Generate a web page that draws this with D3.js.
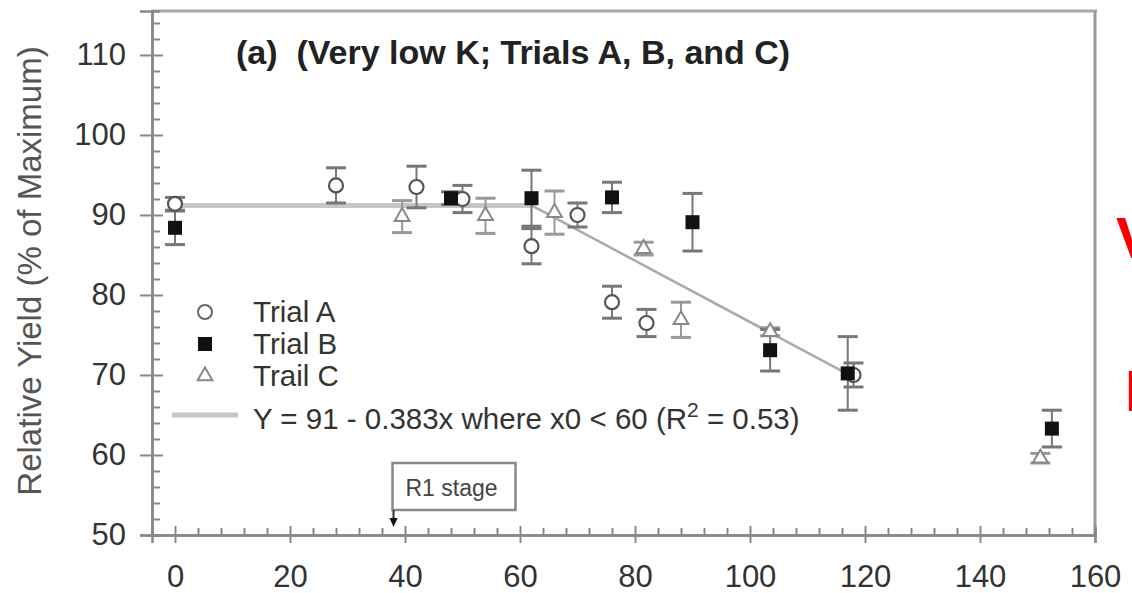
<!DOCTYPE html>
<html>
<head>
<meta charset="utf-8">
<script src="https://cdn.jsdelivr.net/npm/d3@7"></script>
<style>
  body { margin: 0; background: #fff; }
  svg { display: block; font-family: Arial, "Liberation Sans", sans-serif; }
</style>
</head>
<body>
<svg id="chart" width="1132" height="593"></svg>
<script>
// data
const trialA_x = [0, 28, 42, 50, 62, 70, 76, 82, 118];
const trialA_y = [91.4, 93.7, 93.5, 92.0, 86.1, 90.0, 79.1, 76.5, 70.0];
const trialA_err = [0.8, 2.2, 2.6, 1.7, 2.2, 1.5, 2.0, 1.7, 1.5];

const trialB_x = [0, 48, 62, 76, 90, 103.5, 117, 152.5];
const trialB_y = [88.4, 92.1, 92.1, 92.2, 89.1, 73.1, 70.2, 63.3];
const trialB_err = [2.1, 0.8, 3.5, 1.9, 3.6, 2.6, 4.6, 2.3];

const trialC_x = [39.5, 54, 66, 81.5, 88, 103.5, 150.5];
const trialC_y = [89.8, 89.9, 90.3, 85.8, 76.9, 75.4, 59.6];
const trialC_err = [2.0, 2.2, 2.7, 0.8, 2.2, 0.5, 0.6];

// fitted line: plateau then linear decline
const regX = [0, 62, 117];
const regY = [91.2, 91.2, 70.1];

const xTicks = [0, 20, 40, 60, 80, 100, 120, 140, 160];
const yTicks = [50, 60, 70, 80, 90, 100, 110];
const r1X = 38;

const legendLabels = ["Trial A", "Trial B", "Trail C"];
const titleText = "(a)  (Very low K; Trials A, B, and C)";
const yTitle = "Relative Yield (% of Maximum)";

const svg = d3.select('#chart');

const x = d3.scaleLinear().domain([-4, 160]).range([152, 1095]);
const y = d3.scaleLinear().domain([50, 115.5]).range([535, 11]);

const axisColor = '#888';

// frame (top + right)
svg.append('line').attr('x1', x(-4)).attr('x2', x(160) + 2).attr('y1', y(115.5)).attr('y2', y(115.5))
  .attr('stroke', '#aaa').attr('stroke-width', 3);
svg.append('line').attr('x1', x(160)).attr('x2', x(160)).attr('y1', y(115.5)).attr('y2', y(50))
  .attr('stroke', '#999').attr('stroke-width', 3);

// y axis
const yMinor = d3.range(50, 116, 2).filter(v => v % 10 !== 0);
const yMinorG = svg.append('g').attr('transform', `translate(${x(-4)},0)`)
  .call(d3.axisLeft(y).tickValues(yMinor).tickSize(-8).tickFormat(''));
const yAxisG = svg.append('g').attr('transform', `translate(${x(-4)},0)`)
  .call(d3.axisLeft(y).tickValues(yTicks).tickSize(12).tickPadding(14));
yAxisG.selectAll('.tick line').attr('x1', 11);

// x axis
const xMinor = d3.range(-4, 161, 4).filter(v => v % 20 !== 0);
const xMinorG = svg.append('g').attr('transform', `translate(0,${y(50)})`)
  .call(d3.axisBottom(x).tickValues(xMinor).tickSize(-7).tickFormat(''));
const xAxisG = svg.append('g').attr('transform', `translate(0,${y(50)})`)
  .call(d3.axisBottom(x).tickValues(xTicks).tickSize(8).tickPadding(22));
xAxisG.selectAll('.tick line').attr('y1', -9);

[yMinorG, yAxisG, xMinorG, xAxisG].forEach(g => {
  g.select('.domain').attr('stroke', axisColor).attr('stroke-width', 2.5);
  g.selectAll('.tick line').attr('stroke', axisColor).attr('stroke-width', 2);
  g.selectAll('.tick text').attr('font-size', 31).attr('fill', '#333')
    .attr('font-family', 'Arial, "Liberation Sans", sans-serif');
});

// axis title
svg.append('text')
  .attr('transform', 'translate(41,271) rotate(-90)')
  .attr('text-anchor', 'middle')
  .attr('font-size', 33).attr('fill', '#555')
  .text(yTitle);

// chart title
svg.append('text').attr('x', 236).attr('y', 64)
  .attr('font-size', 34).attr('font-weight', 'bold').attr('fill', '#222')
  .attr('xml:space', 'preserve').style('white-space', 'pre')
  .text(titleText);

// regression line
svg.append('line')
  .attr('x1', x(regX[0])).attr('y1', y(regY[0])).attr('x2', x(regX[1])).attr('y2', y(regY[1]))
  .attr('stroke', '#c6c6c6').attr('stroke-width', 5);
svg.append('line')
  .attr('x1', x(regX[1])).attr('y1', y(regY[1])).attr('x2', x(regX[2])).attr('y2', y(regY[2]))
  .attr('stroke', '#aaa').attr('stroke-width', 2.5);

// error bars + markers
function makeSeries(xs, ys, es) {
  return xs.map((v, i) => ({x: v, y: ys[i], e: es[i]}));
}
const seriesA = makeSeries(trialA_x, trialA_y, trialA_err);
const seriesB = makeSeries(trialB_x, trialB_y, trialB_err);
const seriesC = makeSeries(trialC_x, trialC_y, trialC_err);

function errorBars(data, color) {
  const g = svg.append('g').attr('stroke', color);
  data.forEach(d => {
    g.append('line').attr('x1', x(d.x)).attr('x2', x(d.x))
      .attr('y1', y(d.y + d.e)).attr('y2', y(d.y - d.e)).attr('stroke-width', 2);
    [d.y + d.e, d.y - d.e].forEach(v => {
      g.append('line').attr('x1', x(d.x) - 10).attr('x2', x(d.x) + 10)
        .attr('y1', y(v)).attr('y2', y(v)).attr('stroke-width', 3);
    });
  });
}
errorBars(seriesC, '#999');
errorBars(seriesA, '#777');
errorBars(seriesB, '#777');

const triangle = d3.symbol().type(d3.symbolTriangle).size(95);

svg.append('g').selectAll('path').data(seriesC).join('path')
  .attr('d', triangle)
  .attr('transform', d => `translate(${x(d.x)},${y(d.y)})`)
  .attr('fill', '#fff').attr('stroke', '#888').attr('stroke-width', 2);

svg.append('g').selectAll('circle').data(seriesA).join('circle')
  .attr('cx', d => x(d.x)).attr('cy', d => y(d.y)).attr('r', 7)
  .attr('fill', '#fff').attr('stroke', '#555').attr('stroke-width', 2.2);

svg.append('g').selectAll('rect').data(seriesB).join('rect')
  .attr('x', d => x(d.x) - 7).attr('y', d => y(d.y) - 7)
  .attr('width', 14).attr('height', 14).attr('fill', '#111');

// legend
const legend = svg.append('g');
const rowY = [312, 344, 376];
legend.append('circle').attr('cx', 205).attr('cy', rowY[0]).attr('r', 7)
  .attr('fill', '#fff').attr('stroke', '#666').attr('stroke-width', 2);
legend.append('rect').attr('x', 198).attr('y', rowY[1] - 7).attr('width', 14).attr('height', 14)
  .attr('fill', '#111');
legend.append('path').attr('d', triangle).attr('transform', `translate(205,${rowY[2]})`)
  .attr('fill', '#fff').attr('stroke', '#888').attr('stroke-width', 2);
legendLabels.forEach((t, i) => {
  legend.append('text').attr('x', 253).attr('y', rowY[i] + 10)
    .attr('font-size', 29.5).attr('fill', '#333').text(t);
});
legend.append('line').attr('x1', 172).attr('x2', 238).attr('y1', 415).attr('y2', 415)
  .attr('stroke', '#c6c6c6').attr('stroke-width', 5);
const eq = legend.append('text').attr('x', 253).attr('y', 429)
  .attr('font-size', 29.5).attr('fill', '#333');
eq.append('tspan').text('Y = 91 - 0.383x where x0 < 60 (R');
eq.append('tspan').attr('dy', -12).attr('font-size', 21).text('2');
eq.append('tspan').attr('dy', 12).text(' = 0.53)');

// R1 stage annotation
const r1 = svg.append('g');
r1.append('rect').attr('x', x(r1X) - 1).attr('y', 463).attr('width', 123).attr('height', 47)
  .attr('fill', '#fff').attr('stroke', '#888').attr('stroke-width', 2.5);
r1.append('text').attr('x', x(r1X) + 12).attr('y', 496)
  .attr('font-size', 23).attr('fill', '#444').text('R1 stage');
r1.append('line').attr('x1', x(r1X)).attr('x2', x(r1X)).attr('y1', 510).attr('y2', 520)
  .attr('stroke', '#333').attr('stroke-width', 2);
r1.append('path')
  .attr('d', `M${x(r1X) - 4},518 L${x(r1X) + 4},518 L${x(r1X)},527 Z`)
  .attr('fill', '#111');

// red text cut at the right edge, as in the source picture
svg.append('text').attr('x', 1116).attr('y', 258)
  .attr('font-size', 58).attr('font-weight', 'bold').attr('fill', '#f00').text('V');
svg.append('text').attr('x', 1125).attr('y', 411)
  .attr('font-size', 58).attr('font-weight', 'bold').attr('fill', '#f00').text('L');
</script>
</body>
</html>
